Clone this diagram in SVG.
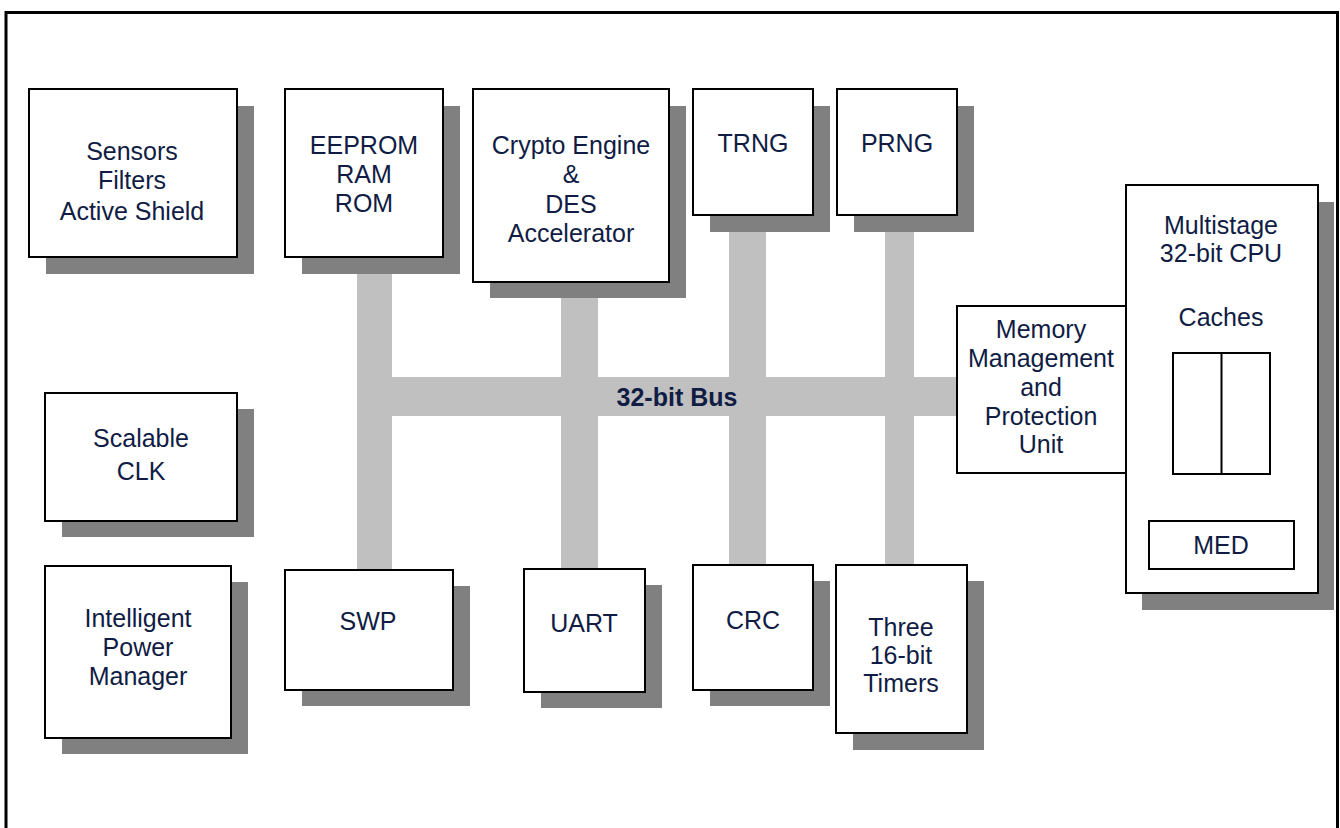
<svg xmlns="http://www.w3.org/2000/svg" width="1340" height="828" viewBox="0 0 1340 828">
<style>
.box{fill:#fff;stroke:#000;stroke-width:2}
.sh{fill:#808080}
.bus{fill:#c0c0c0}
text{font-family:"Liberation Sans",Arial,sans-serif;font-size:25px;fill:#101c44;text-anchor:middle}
.b{font-weight:bold}
</style>
<rect x="0" y="0" width="1340" height="828" fill="#fff"/>
<rect x="6" y="12.5" width="1331.5" height="830" fill="none" stroke="#000" stroke-width="3"/>
<g id="connectors">
<rect class="bus" x="357" y="250" width="35" height="325"/>
<rect class="bus" x="561" y="280" width="37" height="292"/>
<rect class="bus" x="729" y="210" width="37" height="360"/>
<rect class="bus" x="885" y="210" width="29" height="360"/>
<rect class="bus" x="357" y="377" width="602" height="39"/>
<text class="b" x="677" y="406">32-bit Bus</text>
</g>
<g id="sensors">
<rect class="sh" x="46" y="106" width="208" height="168"/>
<rect class="box" x="29" y="89" width="208" height="168"/>
<text x="132" y="160">Sensors</text>
<text x="132" y="189">Filters</text>
<text x="132" y="220">Active Shield</text>
</g>
<g id="memory">
<rect class="sh" x="302" y="106" width="158" height="168"/>
<rect class="box" x="285" y="89" width="158" height="168"/>
<text x="364" y="154">EEPROM</text>
<text x="364" y="183">RAM</text>
<text x="364" y="212">ROM</text>
</g>
<g id="crypto">
<rect class="sh" x="490" y="106" width="196" height="192"/>
<rect class="box" x="473" y="89" width="196" height="193"/>
<text x="571" y="154">Crypto Engine</text>
<text x="571" y="183">&amp;</text>
<text x="571" y="213">DES</text>
<text x="571" y="242">Accelerator</text>
</g>
<g id="trng">
<rect class="sh" x="710" y="106" width="120" height="126"/>
<rect class="box" x="693" y="89" width="120" height="126"/>
<text x="753" y="152">TRNG</text>
</g>
<g id="prng">
<rect class="sh" x="854" y="106" width="120" height="126"/>
<rect class="box" x="837" y="89" width="120" height="126"/>
<text x="897" y="152">PRNG</text>
</g>
<g id="clk">
<rect class="sh" x="62" y="409" width="192" height="128"/>
<rect class="box" x="45" y="393" width="192" height="128"/>
<text x="141" y="447">Scalable</text>
<text x="141" y="480">CLK</text>
</g>
<g id="power">
<rect class="sh" x="62" y="582" width="186" height="172"/>
<rect class="box" x="45" y="566" width="186" height="172"/>
<text x="138" y="627">Intelligent</text>
<text x="138" y="656">Power</text>
<text x="138" y="685">Manager</text>
</g>
<g id="swp">
<rect class="sh" x="302" y="586" width="168" height="120"/>
<rect class="box" x="285" y="570" width="168" height="120"/>
<text x="368" y="630">SWP</text>
</g>
<g id="uart">
<rect class="sh" x="541" y="585" width="121" height="123"/>
<rect class="box" x="524" y="569" width="121" height="123"/>
<text x="584" y="632">UART</text>
</g>
<g id="crc">
<rect class="sh" x="710" y="581" width="120" height="125"/>
<rect class="box" x="693" y="565" width="120" height="125"/>
<text x="753" y="629">CRC</text>
</g>
<g id="timers">
<rect class="sh" x="853" y="581" width="131" height="169"/>
<rect class="box" x="836" y="565" width="131" height="168"/>
<text x="901" y="636">Three</text>
<text x="901" y="664">16-bit</text>
<text x="901" y="692">Timers</text>
</g>
<g id="cpu">
<rect class="sh" x="1142" y="202" width="192" height="408"/>
<rect class="box" x="1126" y="185" width="192" height="408"/>
<text x="1221" y="234">Multistage</text>
<text x="1221" y="262">32-bit CPU</text>
<text x="1221" y="326">Caches</text>
<rect class="box" x="1173" y="353" width="97" height="121"/>
<line x1="1221.5" y1="353" x2="1221.5" y2="474" stroke="#000" stroke-width="2"/>
<rect class="box" x="1149" y="521" width="145" height="48"/>
<text x="1221" y="554">MED</text>
</g>
<g id="mmu">
<rect class="box" x="957" y="306" width="169" height="167"/>
<text x="1041" y="338">Memory</text>
<text x="1041" y="367">Management</text>
<text x="1041" y="396">and</text>
<text x="1041" y="425">Protection</text>
<text x="1041" y="453">Unit</text>
</g>
</svg>
